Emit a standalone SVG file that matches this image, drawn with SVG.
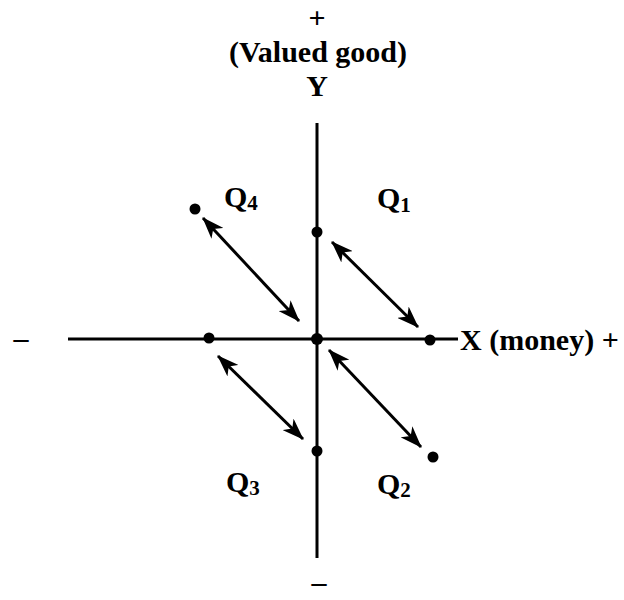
<svg xmlns="http://www.w3.org/2000/svg" width="624" height="600" viewBox="0 0 624 600">
  <style>
    text { font-family: "Liberation Serif", "Times New Roman", serif; font-size: 30px; font-weight: bold; fill: #000; }
    .mid { text-anchor: middle; }
    .sub { font-size: 21px; }
    .axis { stroke: #000; stroke-width: 3; fill: none; }
    .arr { stroke: #000; stroke-width: 3; fill: none; marker-start: url(#ah); marker-end: url(#ah); }
    .dot { fill: #000; }
  </style>
  <defs>
    <marker id="ah" viewBox="0 0 22 16" refX="21" refY="8" markerWidth="22" markerHeight="16" markerUnits="userSpaceOnUse" orient="auto-start-reverse">
      <path d="M0,0 L22,8 L0,16 L6,8 Z" fill="#000"/>
    </marker>
  </defs>
  <rect width="624" height="600" fill="#fff"/>

  <g id="axes">
    <line class="axis" x1="317" y1="123" x2="317" y2="558"/>
    <line class="axis" x1="68" y1="339" x2="458" y2="339"/>
  </g>

  <g id="labels">
    <text class="mid" x="317" y="28">+</text>
    <text class="mid" x="318" y="62">(Valued good)</text>
    <text class="mid" x="317" y="96">Y</text>
    <text class="mid" x="21" y="348">–</text>
    <text x="460" y="350">X (money) +</text>
    <text class="mid" x="319" y="592">–</text>
  </g>

  <g id="dots">
    <circle id="origin" class="dot" cx="317" cy="339" r="6"/>
    <circle id="y-up" class="dot" cx="317" cy="232" r="5.5"/>
    <circle id="x-right" class="dot" cx="430" cy="340" r="5.5"/>
    <circle id="x-left" class="dot" cx="209" cy="338" r="5.5"/>
    <circle id="y-down" class="dot" cx="317" cy="451" r="5.5"/>
    <circle id="q4-dot" class="dot" cx="195" cy="209" r="5.5"/>
    <circle id="q2-dot" class="dot" cx="433" cy="457" r="5.5"/>
  </g>

  <g id="quadrants">
    <g id="Q1"><text x="377" y="208">Q<tspan class="sub" dy="4">1</tspan></text></g>
    <g id="Q2"><text x="377" y="494">Q<tspan class="sub" dy="3">2</tspan></text></g>
    <g id="Q3"><text x="226" y="492">Q<tspan class="sub" dy="3">3</tspan></text></g>
    <g id="Q4"><text x="224" y="207">Q<tspan class="sub" dy="3">4</tspan></text></g>
  </g>

  <g id="connectors">
    <line class="arr" x1="203" y1="218" x2="299" y2="321"/>
    <line class="arr" x1="332" y1="242" x2="418" y2="327"/>
    <line class="arr" x1="218" y1="356" x2="303" y2="439"/>
    <line class="arr" x1="329" y1="350" x2="421" y2="447"/>
  </g>
</svg>
